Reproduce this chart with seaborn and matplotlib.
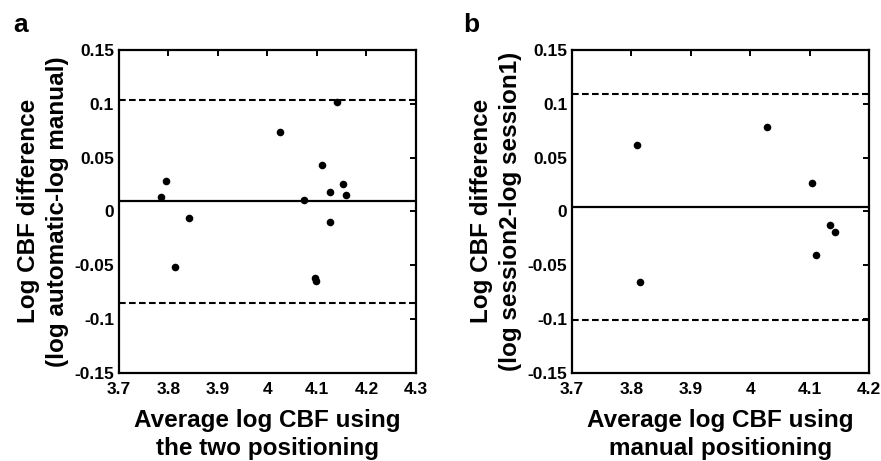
import matplotlib
matplotlib.use("Agg")
import matplotlib.pyplot as plt
import pandas as pd
import seaborn as sns

# panel a: automatic vs manual
avg_a = [3.785, 3.795, 3.814, 3.842, 4.026, 4.074, 4.096, 4.098,
         4.110, 4.127, 4.127, 4.141, 4.152, 4.158]
diff_a = [0.013, 0.028, -0.052, -0.006, 0.074, 0.011, -0.062, -0.065,
          0.043, 0.018, -0.010, 0.102, 0.025, 0.015]
mean_a, upper_a, lower_a = 0.0096, 0.1035, -0.085

# panel b: session2 vs session1
avg_b = [3.810, 3.814, 4.029, 4.104, 4.110, 4.134, 4.142]
diff_b = [0.062, -0.066, 0.078, 0.0265, -0.041, -0.013, -0.019]
mean_b, upper_b, lower_b = 0.0045, 0.109, -0.101

xticks_a = [3.7, 3.8, 3.9, 4.0, 4.1, 4.2, 4.3]
xticks_b = [3.7, 3.8, 3.9, 4.0, 4.1, 4.2]
yticks = [-0.15, -0.1, -0.05, 0, 0.05, 0.1, 0.15]

sns.set_theme(style="white")
plt.rcParams['font.family'] = ['Liberation Sans', 'DejaVu Sans']
plt.rcParams['font.weight'] = 'bold'
plt.rcParams['axes.labelweight'] = 'bold'
plt.rcParams['text.color'] = 'black'
plt.rcParams['axes.labelcolor'] = 'black'


def panel(ax, x, y, mean, upper, lower, xticks, ylabel, xlabel):
    df = pd.DataFrame({"avg": x, "diff": y})
    sns.scatterplot(data=df, x="avg", y="diff", ax=ax, color="black",
                    s=30, edgecolor="black", linewidth=0, zorder=3)
    ax.axhline(mean, color="black", lw=1.6)
    ax.axhline(upper, color="black", lw=1.5, dashes=(3.2, 1.6))
    ax.axhline(lower, color="black", lw=1.5, dashes=(3.2, 1.6))
    ax.set_xlim(xticks[0], xticks[-1])
    ax.set_ylim(-0.15, 0.15)
    ax.set_xticks(xticks)
    ax.set_xticklabels([f"{t:g}" for t in xticks])
    ax.set_yticks(yticks)
    ax.set_yticklabels([f"{t:g}" for t in yticks])
    ax.tick_params(direction="in", length=4, width=1.4, top=True, right=True,
                   labelsize=12.5, colors="black")
    ax.tick_params(axis="x", pad=6.5)
    ax.tick_params(axis="y", pad=3.5)
    for lab in ax.get_xticklabels() + ax.get_yticklabels():
        lab.set_fontweight("bold")
    for sp in ax.spines.values():
        sp.set_linewidth(1.6)
        sp.set_color("black")
    ax.set_xlabel(xlabel, fontsize=17.5, fontweight="bold", labelpad=9,
                  linespacing=1.25)
    ax.set_ylabel(ylabel, fontsize=17.5, fontweight="bold", labelpad=4,
                  linespacing=1.3)


fig = plt.figure(figsize=(8.81, 4.61), dpi=100)
ax1 = fig.add_axes([0.1348, 0.1915, 0.3374, 0.7])
ax2 = fig.add_axes([0.6493, 0.1915, 0.3371, 0.7])

panel(ax1, avg_a, diff_a, mean_a, upper_a, lower_a, xticks_a,
      "Log CBF difference\n(log automatic-log manual)",
      "Average log CBF using\nthe two positioning")
panel(ax2, avg_b, diff_b, mean_b, upper_b, lower_b, xticks_b,
      "Log CBF difference\n(log session2-log session1)",
      "Average log CBF using\nmanual positioning")

fig.text(0.0148, 0.9306, "a", fontsize=19, fontweight="bold", va="baseline")
fig.text(0.5255, 0.9306, "b", fontsize=19, fontweight="bold", va="baseline")

fig.savefig("out.png", dpi=100)
